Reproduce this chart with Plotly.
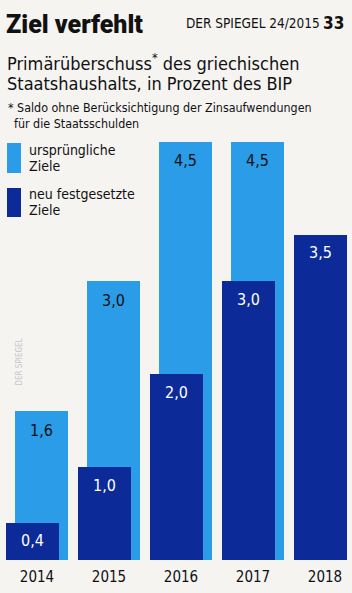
import plotly.graph_objects as go

years = [2014, 2015, 2016, 2017, 2018]
original_targets = [1.6, 3.0, 4.5, 4.5, None]
new_targets = [0.4, 1.0, 2.0, 3.0, 3.5]
orig_labels = ["1,6", "3,0", "4,5", "4,5", ""]
new_labels = ["0,4", "1,0", "2,0", "3,0", "3,5"]
tick_labels = ["2014", "2015", "2016", "2017", "2018"]

W, H = 352, 593
BG = "#f5f4f1"
LIGHT = "#2a9ce8"
DARK = "#0c2a98"
FONT = "DejaVu Sans Condensed, sans-serif"
TFONT = "Roboto, Liberation Sans, sans-serif"

T, B = 133, 33
Y0 = H - B
PH = Y0 - T

def py(p):
    return (Y0 - p) / PH

def px(p):
    return p / W

BW = 0.736
OFF_L = -0.306
OFF_D = -0.431

fig = go.Figure()
fig.add_trace(go.Bar(x=years, y=original_targets, offset=OFF_L, width=BW,
                     marker=dict(color=LIGHT, line=dict(width=0)), showlegend=False,
                     hoverinfo="skip"))
fig.add_trace(go.Bar(x=years, y=new_targets, offset=OFF_D, width=BW,
                     marker=dict(color=DARK, line=dict(width=0)), showlegend=False,
                     hoverinfo="skip"))

ann = []
for yr, v, lab in zip(years, original_targets, orig_labels):
    if v is None:
        continue
    ann.append(dict(x=yr + OFF_L + BW / 2, y=v, xref="x", yref="y", text=lab,
                    showarrow=False, yshift=-19, font=dict(size=16, color="#111", family=FONT)))
for yr, v, lab in zip(years, new_targets, new_labels):
    ann.append(dict(x=yr + OFF_D + BW / 2, y=v, xref="x", yref="y", text=lab,
                    showarrow=False, yshift=-18, font=dict(size=16, color="#ffffff", family=FONT)))

def txt(x, y, s, size, color="#111", weight="normal", anchor="left", fam=FONT):
    ann.append(dict(x=px(x), y=py(y), xref="paper", yref="paper", text=s, showarrow=False,
                    xanchor=anchor, yanchor="middle",
                    font=dict(size=size, color=color, family=fam, weight=weight)))

txt(4, 25, "Ziel verfehlt", 25, weight=900, fam=TFONT)
txt(184, 23, "DER SPIEGEL 24/2015", 13.5)
txt(321, 23, "33", 17, weight="bold")
txt(5, 62, "Primärüberschuss<sup>*</sup> des griechischen", 18)
txt(5, 83, "Staatshaushalts, in Prozent des BIP", 18)
txt(6, 108, "* Saldo ohne Berücksichtigung der Zinsaufwendungen", 12.4)
txt(12, 124, "für die Staatsschulden", 12.4)
txt(27, 150, "ursprüngliche", 14)
txt(27, 166, "Ziele", 14)
txt(27, 194, "neu festgesetzte", 14)
txt(27, 210, "Ziele", 14)
ann.append(dict(x=px(12), y=py(362), xref="paper", yref="paper", text="DER SPIEGEL",
                showarrow=False, textangle=-90, font=dict(size=8, color="#c9c6cc", family=FONT)))

shapes = [
    dict(type="rect", xref="paper", yref="paper", x0=px(7), x1=px(21), y0=py(173), y1=py(143),
         fillcolor=LIGHT, line=dict(width=0)),
    dict(type="rect", xref="paper", yref="paper", x0=px(7), x1=px(21), y0=py(217), y1=py(188),
         fillcolor=DARK, line=dict(width=0)),
]

x0 = 2014 - 37 / 72
x1 = x0 + W / 72
fig.update_layout(
    width=W, height=H, margin=dict(l=0, r=0, t=T, b=B),
    paper_bgcolor=BG, plot_bgcolor=BG, barmode="overlay", bargap=0,
    xaxis=dict(range=[x0, x1], tickvals=years, ticktext=tick_labels, showgrid=False,
               zeroline=False, showline=False, ticks="", fixedrange=True, ticklabelstandoff=6,
               tickfont=dict(size=15, color="#111", family=FONT)),
    yaxis=dict(range=[0, PH / 92.9], visible=False, showgrid=False, zeroline=False, fixedrange=True),
    annotations=ann, shapes=shapes, font=dict(family=FONT),
)
fig.write_html("out.html", config={"displayModeBar": False})
